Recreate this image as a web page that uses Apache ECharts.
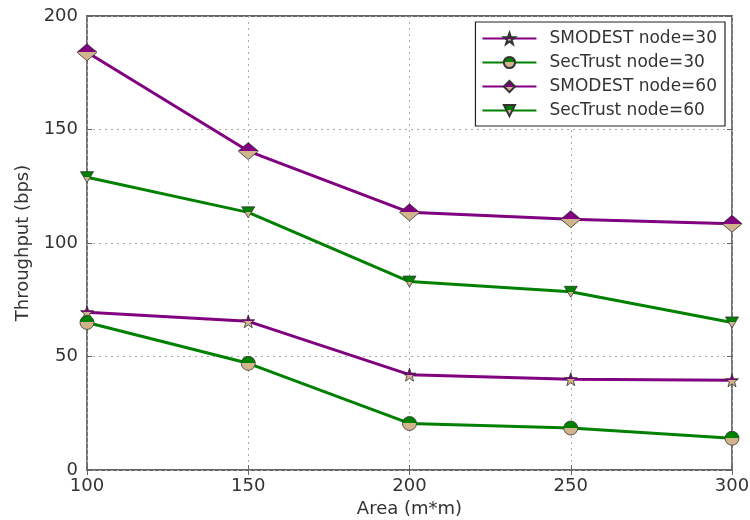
<!DOCTYPE html>
<html><head><meta charset="utf-8">
<script src="https://cdn.jsdelivr.net/npm/echarts@6/dist/echarts.min.js"></script>
<style>html,body{margin:0;padding:0;background:#fff}#c{width:750px;height:520px}</style>
</head><body><div id="c"></div>
<script>
const areas = [100, 150, 200, 250, 300];
const smodest30 = [69.5, 65.5, 42, 40, 39.5];
const sectrust30 = [65, 47, 20.5, 18.5, 14];
const smodest60 = [184, 140.5, 113.5, 110.5, 108.5];
const sectrust60 = [129, 113.5, 83, 78.5, 65];
const seriesNames = ['SMODEST node=30', 'SecTrust node=30', 'SMODEST node=60', 'SecTrust node=60'];
const xTicks = [100, 150, 200, 250, 300];
const yTicks = [0, 50, 100, 150, 200];

const PURPLE = '#800080', GREEN = '#008000', TAN = '#d2b48c';
const FONT = 'DejaVu Sans';
function half(top) {
  return new echarts.graphic.LinearGradient(0, 0, 0, 1, [
    {offset: 0, color: top}, {offset: 0.5, color: top},
    {offset: 0.5, color: TAN}, {offset: 1, color: TAN}]);
}
const STAR = 'path://M0,-10 L2.35,-3.24 L9.51,-3.09 L3.8,1.24 L5.88,8.09 L0,4 L-5.88,8.09 L-3.8,1.24 L-9.51,-3.09 L-2.35,-3.24 Z';
const TRI_DOWN = 'path://M0,0 L10,0 L5,10 Z';

function mk(name, vals, color, symbol, size) {
  return {
    name: name, type: 'line',
    data: areas.map((a, i) => [a, vals[i]]),
    symbol: symbol, symbolSize: size,
    showAllSymbol: true, clip: false,
    lineStyle: {color: color, width: 3},
    itemStyle: {color: half(color), borderColor: '#333', borderWidth: 0.8},
    emphasis: {disabled: true}
  };
}

const chart = echarts.init(document.getElementById('c'), null, {renderer: 'canvas'});
chart.setOption({
  animation: false,
  backgroundColor: '#fff',
  grid: {left: 87, right: 18, top: 16, bottom: 50, outerBoundsMode: 'none', containLabel: false,
         show: true, borderColor: '#666', borderWidth: 1.8, backgroundColor: 'transparent'},
  legend: {
    data: seriesNames,
    orient: 'vertical', right: 25, top: 22,
    itemWidth: 54, itemHeight: 14, itemGap: 7,
    backgroundColor: '#fff', borderColor: '#222', borderWidth: 1.2, borderRadius: 0,
    padding: [8, 8, 7, 6],
    textStyle: {fontFamily: FONT, fontSize: 17, color: '#333', padding: [0, 0, 0, 8]}
  },
  xAxis: [{
    type: 'value', min: 100, max: 300, interval: 50,
    name: 'Area (m*m)', nameLocation: 'middle', nameGap: 29,
    nameTextStyle: {fontFamily: FONT, fontSize: 18, color: '#333'},
    axisLine: {show: false},
    axisTick: {show: true, inside: true, length: 5, lineStyle: {color: '#666'}},
    axisLabel: {fontFamily: FONT, fontSize: 18, color: '#333', margin: 7},
    splitLine: {show: true, lineStyle: {color: '#aaa', type: [2, 4], width: 1}}
  }, {
    type: 'value', position: 'top', min: 100, max: 300, interval: 50,
    axisLine: {show: false}, axisLabel: {show: false},
    axisTick: {show: true, inside: true, length: 5, lineStyle: {color: '#666'}},
    splitLine: {show: false}
  }],
  yAxis: [{
    type: 'value', min: 0, max: 200, interval: 50,
    name: 'Throughput (bps)', nameLocation: 'middle', nameGap: 55, nameRotate: 90,
    nameTextStyle: {fontFamily: FONT, fontSize: 18, color: '#333'},
    axisLine: {show: false},
    axisTick: {show: true, inside: true, length: 5, lineStyle: {color: '#666'}},
    axisLabel: {fontFamily: FONT, fontSize: 18, color: '#333', margin: 9},
    splitLine: {show: true, lineStyle: {color: '#aaa', type: [2, 4], width: 1}}
  }, {
    type: 'value', position: 'right', min: 0, max: 200, interval: 50,
    axisLine: {show: false}, axisLabel: {show: false},
    axisTick: {show: true, inside: true, length: 5, lineStyle: {color: '#666'}},
    splitLine: {show: false}
  }],
  series: [
    mk(seriesNames[0], smodest30, PURPLE, STAR, 13),
    mk(seriesNames[1], sectrust30, GREEN, 'circle', 14),
    mk(seriesNames[2], smodest60, PURPLE, 'diamond', [20, 17]),
    mk(seriesNames[3], sectrust60, GREEN, TRI_DOWN, [13, 11])
  ]
});
</script></body></html>
